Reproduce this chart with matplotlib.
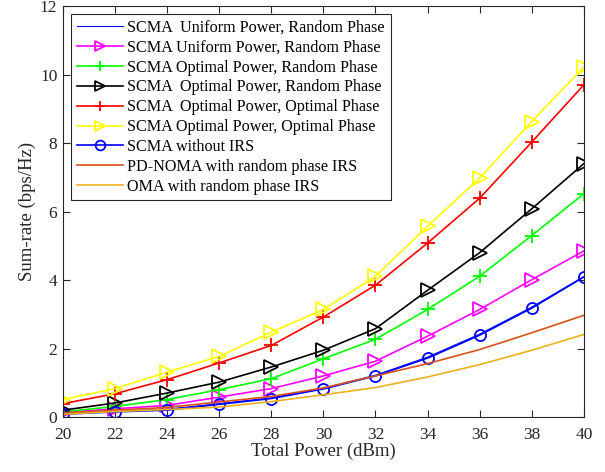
import matplotlib.pyplot as plt
import numpy as np

plt.rcParams['font.family'] = ['Liberation Serif', 'DejaVu Serif']

# total power (dBm)
power = [20, 22, 24, 26, 28, 30, 32, 34, 36, 38, 40]

# sum-rate values (bps/Hz)
uni_rand = [0.10, 0.17, 0.23, 0.39, 0.56, 0.84, 1.22, 1.75, 2.42, 3.21, 4.10]
uni_rand_tri = [0.13, 0.24, 0.34, 0.58, 0.83, 1.20, 1.63, 2.36, 3.14, 4.01, 4.85]
opt_rand_plus = [0.15, 0.31, 0.51, 0.80, 1.12, 1.70, 2.27, 3.14, 4.11, 5.30, 6.52]
opt_rand_tri = [0.20, 0.41, 0.70, 1.02, 1.46, 1.95, 2.58, 3.70, 4.80, 6.08, 7.40]
opt_opt_plus = [0.39, 0.68, 1.09, 1.58, 2.09, 2.92, 3.85, 5.08, 6.39, 8.03, 9.70]
opt_opt_tri = [0.51, 0.83, 1.31, 1.77, 2.48, 3.14, 4.11, 5.57, 6.98, 8.63, 10.22]
no_irs = [0.08, 0.15, 0.20, 0.37, 0.54, 0.82, 1.20, 1.72, 2.39, 3.18, 4.09]
pd_noma = [0.12, 0.20, 0.28, 0.44, 0.60, 0.85, 1.20, 1.56, 1.97, 2.46, 2.97]
oma = [0.08, 0.16, 0.22, 0.29, 0.45, 0.65, 0.86, 1.17, 1.53, 1.95, 2.41]

fig = plt.figure(figsize=(6.05, 4.72), dpi=100)
ax = fig.add_axes([0.104, 0.1165, 0.861, 0.8705])

lw = 1.2
ax.plot(power, uni_rand, '-', color='#0000ff', lw=0.8,
        label='SCMA  Uniform Power, Random Phase')
ax.plot(power, uni_rand_tri, '->', color='#ff00ff', lw=lw, ms=10, mfc='none', mew=1.3,
        label='SCMA Uniform Power, Random Phase')
ax.plot(power, opt_rand_plus, '-+', color='#00ff00', lw=lw, ms=10, mew=1.3,
        label='SCMA Optimal Power, Random Phase')
ax.plot(power, opt_rand_tri, '->', color='black', lw=lw, ms=10, mfc='none', mew=1.3,
        label='SCMA  Optimal Power, Random Phase')
ax.plot(power, opt_opt_plus, '-+', color='#ff0000', lw=lw, ms=10, mew=1.3,
        label='SCMA  Optimal Power, Optimal Phase')
ax.plot(power, opt_opt_tri, '->', color='#ffff00', lw=lw, ms=10, mfc='none', mew=1.3,
        label='SCMA Optimal Power, Optimal Phase')
ax.plot(power, no_irs, '-o', color='#0000ff', lw=lw, ms=8, mfc='none', mew=1.3,
        label='SCMA without IRS')
ax.plot(power, pd_noma, '-', color='#D95319', lw=lw,
        label='PD-NOMA with random phase IRS')
ax.plot(power, oma, '-', color='#EDB120', lw=lw,
        label='OMA with random phase IRS')

ax.set_xlim(20, 40)
ax.set_ylim(0, 12)
ax.set_xticks(np.arange(20, 41, 2))
ax.set_yticks(np.arange(0, 13, 2))
ax.tick_params(direction='in', top=True, right=True, labelsize=12.5,
               colors='#262626', length=5, width=0.8)
ax.tick_params(axis='x', pad=7)
ax.tick_params(axis='y', pad=4)
for s in ax.spines.values():
    s.set_color('#262626')
    s.set_linewidth(0.8)
ax.set_xlabel('Total Power (dBm)', fontsize=13.5, color='#262626', labelpad=0)
ax.set_ylabel('Sum-rate (bps/Hz)', fontsize=13.5, color='#262626', labelpad=3)

leg = ax.legend(loc='upper left', fontsize=11.6, handlelength=2.9, handletextpad=0.25,
                borderaxespad=0.5, labelspacing=0.24, fancybox=False,
                framealpha=1, edgecolor='#262626', borderpad=0.35)
leg.get_frame().set_linewidth(0.8)
for h in leg.legend_handles:
    h.set_markersize(7)

plt.savefig('out.png', dpi=100)
plt.close()
